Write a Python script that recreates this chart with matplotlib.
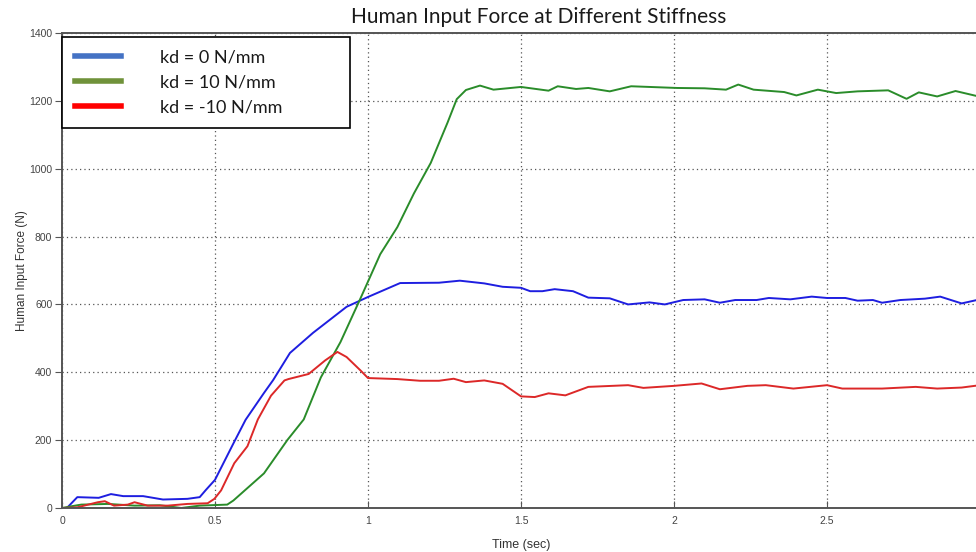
import matplotlib
matplotlib.use("Agg")
import matplotlib.pyplot as plt
from matplotlib.lines import Line2D

# === Données ===
t_kd0 = [0, 0.016, 0.05, 0.12, 0.16, 0.2, 0.265, 0.33, 0.41, 0.45, 0.47, 0.5, 0.56, 0.60,
         0.66, 0.69, 0.745, 0.82, 0.93, 1.0, 1.105, 1.232, 1.30, 1.38, 1.44, 1.5, 1.53,
         1.57, 1.61, 1.67, 1.72, 1.79, 1.85, 1.92, 1.97, 2.03, 2.10, 2.15, 2.20, 2.27,
         2.31, 2.38, 2.45, 2.5, 2.56, 2.60, 2.65, 2.68, 2.74, 2.82, 2.87, 2.94, 3.0]
f_kd0 = [0, 0, 32, 30, 41, 35, 35, 25, 27, 32, 53, 83, 190, 260,
         339, 377, 457, 516, 593, 622, 663, 664, 670, 662, 652, 649, 639,
         639, 645, 639, 620, 618, 600, 606, 600, 613, 615, 605, 613, 613,
         619, 615, 623, 619, 619, 611, 613, 605, 613, 617, 623, 603, 615]

t_kd10 = [0, 0.03, 0.063, 0.15, 0.237, 0.32, 0.39, 0.45, 0.54, 0.56, 0.61, 0.66, 0.737,
          0.79, 0.846, 0.91, 0.976, 1.04, 1.096, 1.15, 1.205, 1.26, 1.29, 1.32, 1.366,
          1.41, 1.5, 1.59, 1.62, 1.68, 1.72, 1.79, 1.86, 2.01, 2.10, 2.17, 2.21, 2.26,
          2.36, 2.40, 2.47, 2.53, 2.60, 2.70, 2.76, 2.80, 2.86, 2.92, 3.0]
f_kd10 = [0, 5, 10, 12, 7, 8, 0, 7, 10, 22, 62, 102, 201,
          261, 385, 489, 619, 748, 828, 927, 1017, 1136, 1205, 1232, 1245,
          1233, 1241, 1230, 1243, 1235, 1238, 1228, 1243, 1238, 1237, 1233, 1248, 1233,
          1226, 1216, 1233, 1223, 1228, 1231, 1206, 1225, 1213, 1229, 1212]

t_kdm10 = [0, 0.05, 0.117, 0.14, 0.17, 0.215, 0.237, 0.28, 0.346, 0.41, 0.476, 0.498,
           0.52, 0.563, 0.606, 0.64, 0.683, 0.727, 0.74, 0.806, 0.86, 0.90, 0.93, 0.976,
           1.0, 1.096, 1.17, 1.232, 1.28, 1.32, 1.38, 1.44, 1.5, 1.545, 1.59, 1.645, 1.72,
           1.85, 1.90, 2.0, 2.09, 2.15, 2.24, 2.30, 2.39, 2.5, 2.55, 2.68, 2.79, 2.86,
           2.94, 3.0]
f_kdm10 = [0, 2, 17, 20, 7, 10, 17, 7, 7, 12, 14, 27,
           52, 132, 182, 261, 331, 376, 380, 395, 435, 460, 445, 405,
           383, 380, 375, 375, 381, 371, 376, 366, 329, 327, 338, 332, 357,
           362, 354, 360, 367, 350, 360, 362, 352, 362, 352, 352, 357, 352,
           355, 362]

labels = ["kd = 0 N/mm", "kd = 10 N/mm", "kd = -10 N/mm"]
x_ticks = [0, 0.5, 1, 1.5, 2, 2.5]
x_ticklabels = ["0", "0.5", "1", "1.5", "2", "2.5"]
y_ticks = [0, 200, 400, 600, 800, 1000, 1200, 1400]

# === Figure ===
fig = plt.figure(figsize=(9.76, 5.52), dpi=100)
ax = fig.add_axes([62 / 976, 44 / 552, 918 / 976, 475 / 552])

ax.plot(t_kd0, f_kd0, color="#1e1ee0", lw=1.4)
ax.plot(t_kd10, f_kd10, color="#2a8c2a", lw=1.4)
ax.plot(t_kdm10, f_kdm10, color="#dc2828", lw=1.4)

ax.set_xlim(0, 3)
ax.set_ylim(0, 1400)
ax.set_xticks(x_ticks)
ax.set_xticklabels(x_ticklabels)
ax.set_yticks(y_ticks)
ax.grid(True, linestyle=(0, (1, 2.5)), color="#555555", lw=0.9)

for s in ax.spines.values():
    s.set_color("#555555")
    s.set_linewidth(1.4)
ax.tick_params(axis="x", direction="in", length=5, colors="#555555",
               labelcolor="#444444", labelsize=7.5, pad=6)
ax.tick_params(axis="y", direction="out", length=5, colors="#555555",
               labelcolor="#444444", labelsize=7.5, pad=2)
for lab in ax.get_xticklabels() + ax.get_yticklabels():
    lab.set_family("Liberation Sans")

ax.set_xlabel("Time (sec)", family="Liberation Sans", fontsize=9, color="#333333", labelpad=9)
ax.set_ylabel("Human Input Force (N)", family="Liberation Sans", fontsize=8.5,
              color="#333333", labelpad=1)
# titre centré un peu à droite du centre des axes, comme sur l'original
ax.set_title("Human Input Force at Different Stiffness", family="Lato", fontsize=15,
             color="#1a1a1a", pad=7, x=(539 - 62) / 918)

# --- Légende (style Office) ---
handles = [Line2D([], [], color="#4472c4", lw=4),
           Line2D([], [], color="#70923a", lw=4),
           Line2D([], [], color="#ff0000", lw=4)]
leg = ax.legend(handles, labels, loc="upper left",
                bbox_to_anchor=(0.0, 0.992, 288 / 918, 0.0), mode="expand",
                prop={"family": "Lato", "size": 13}, frameon=True, fancybox=False,
                edgecolor="black", framealpha=1, borderaxespad=0,
                handlelength=2.55, handletextpad=2.2, labelspacing=0.5,
                borderpad=0.7)
leg.get_frame().set_linewidth(1.2)
for txt in leg.get_texts():
    txt.set_color("#1a1a1a")

fig.savefig("out.png", dpi=100)
